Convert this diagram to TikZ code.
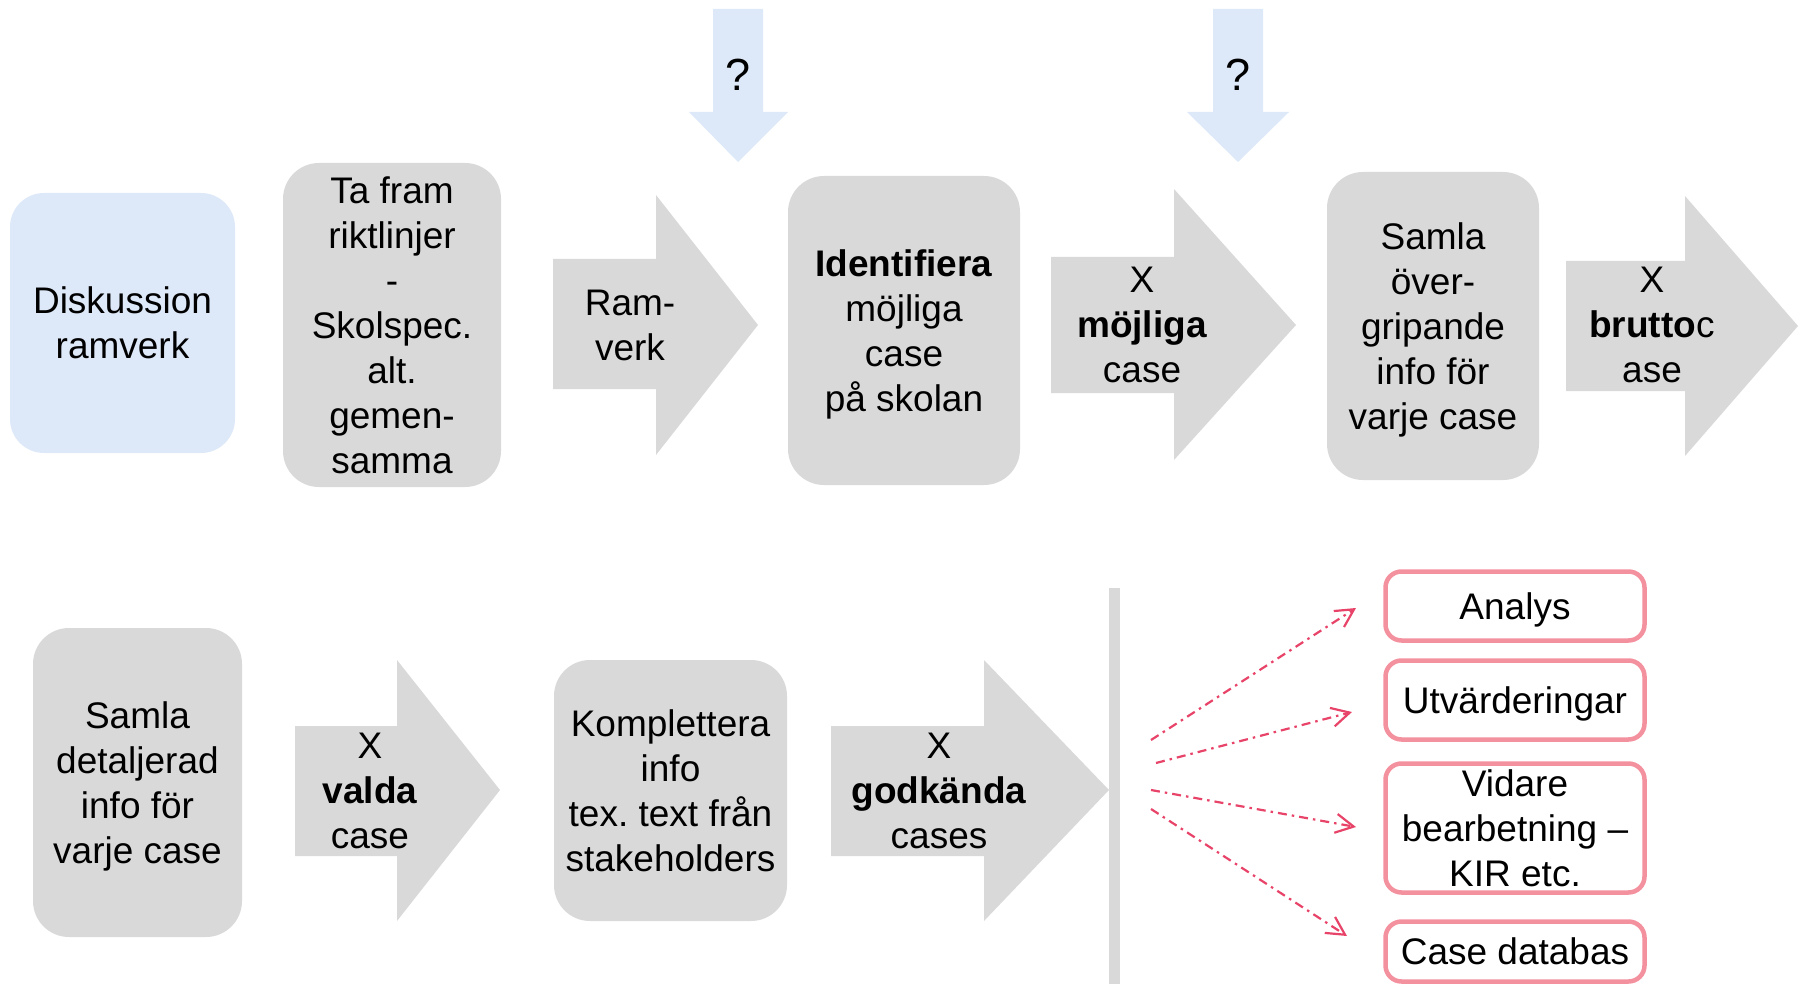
\documentclass[tikz,border=0pt]{standalone}
\usepackage{fontspec}
\setmainfont{Liberation Sans}
\frenchspacing
\usetikzlibrary{arrows.meta}
\definecolor{boxgray}{HTML}{D9D9D9}
\definecolor{boxblue}{HTML}{DDE8F8}
\definecolor{pinkline}{HTML}{F4919F}
\definecolor{pinkarrow}{HTML}{E84469}
\tikzset{
  txt/.style={align=center, inner sep=0pt, font=\fontsize{37}{45}\selectfont, text depth=0pt},
  qtxt/.style={align=center, inner sep=0pt, font=\fontsize{45}{54}\selectfont},
  gbox/.style={txt, fill=boxgray, rounded corners=36pt},
  bbox/.style={txt, fill=boxblue, rounded corners=34pt},
  pbox/.style={txt, draw=pinkline, line width=4.5pt, fill=white, rounded corners=16pt, minimum width=259pt},
  flow/.style={fill=boxgray},
  qflow/.style={fill=boxblue},
  outarrow/.style={draw=pinkarrow, line width=2.2pt, dash pattern=on 9pt off 5pt on 2.5pt off 5pt,
    -{Straight Barb[length=18pt,width=19pt,line width=2.2pt]}},
}
\begin{document}
\begin{tikzpicture}[x=1pt,y=-1pt]
\useasboundingbox (0,0) rectangle (1798,984);
\begin{scope}
\clip (0,0) rectangle (1798,984);
% top row boxes
\node[bbox, minimum width=225pt, minimum height=260pt] (disk) at (122.5,323) {Diskussion\\ramverk};
\node[gbox, minimum width=218pt, minimum height=324pt] (tafram) at (392,325) {Ta fram\\riktlinjer\\-\\Skolspec.\\alt.\\gemen-\\samma};
\node[gbox, minimum width=232pt, minimum height=309pt] (ident) at (904,330.5) {\textbf{Identifiera}\\möjliga\\case\\på skolan};
\node[gbox, minimum width=212pt, minimum height=308pt] (samla1) at (1433,326) {Samla\\över-\\gripande\\info för\\varje case};
% top row block arrows
\fill[flow] (553,259) -- (656,259) -- (656,195) -- (758,325) -- (656,455) -- (656,389) -- (553,389) -- cycle;
\node[txt] (ramverk) at (630,325) {Ram-\\verk};
\fill[flow] (1051,257) -- (1174,257) -- (1174,189) -- (1296,325) -- (1174,460) -- (1174,393) -- (1051,393) -- cycle;
\node[txt] (mojliga) at (1142,325) {X\\\textbf{möjliga}\\case};
\fill[flow] (1566,261) -- (1685,261) -- (1685,196) -- (1798,326) -- (1685,456) -- (1685,391) -- (1566,391) -- cycle;
\node[txt] (brutto) at (1652,325) {X\\\textbf{brutto}c\\ase};
% question arrows
\fill[qflow] (713,9) -- (763,9) -- (763,112) -- (788,112) -- (738,162) -- (689,112) -- (713,112) -- cycle;
\node[qtxt] (q1) at (738,74.5) {?};
\fill[qflow] (1213,9) -- (1263,9) -- (1263,112) -- (1289,112) -- (1238,162) -- (1187,112) -- (1213,112) -- cycle;
\node[qtxt] (q2) at (1238,74.5) {?};
% bottom row
\node[gbox, minimum width=209pt, minimum height=309pt] (samla2) at (137.5,782.5) {Samla\\detaljerad\\info för\\varje case};
\fill[flow] (295,726) -- (397,726) -- (397,660) -- (500,790) -- (397,921) -- (397,856) -- (295,856) -- cycle;
\node[txt] (valda) at (370,791) {X\\\textbf{valda}\\case};
\node[gbox, minimum width=233pt, minimum height=261pt] (kompl) at (670.5,790.5) {Komplettera\\info\\tex. text från\\stakeholders};
\fill[flow] (831,726) -- (984,726) -- (984,660) -- (1109,790) -- (984,921) -- (984,856) -- (831,856) -- cycle;
\node[txt] (godk) at (939,791) {X\\\textbf{godkända}\\cases};
% vertical bar
\fill[flow] (1109,588) rectangle (1120,990);
% outputs
\node[pbox, minimum height=69pt] (analys) at (1515,606) {Analys};
\node[pbox, minimum height=79pt] (utv) at (1515,700) {Utvärderingar};
\node[pbox, minimum height=129pt] (vidare) at (1515,828) {Vidare\\bearbetning –\\KIR etc.};
\node[pbox, minimum height=60pt] (casedb) at (1515,951.5) {Case databas};
% dash-dot connectors
\coordinate (s1) at (1151,740);
\coordinate (e1) at (1356,608);
\coordinate (s2) at (1156,763);
\coordinate (e2) at (1352,712);
\coordinate (s3) at (1151,790);
\coordinate (e3) at (1356,827);
\coordinate (s4) at (1151,809);
\coordinate (e4) at (1347,936);
\draw[outarrow] (s1) -- (e1);
\draw[outarrow] (s2) -- (e2);
\draw[outarrow] (s3) -- (e3);
\draw[outarrow] (s4) -- (e4);
\end{scope}
\end{tikzpicture}
\end{document}
